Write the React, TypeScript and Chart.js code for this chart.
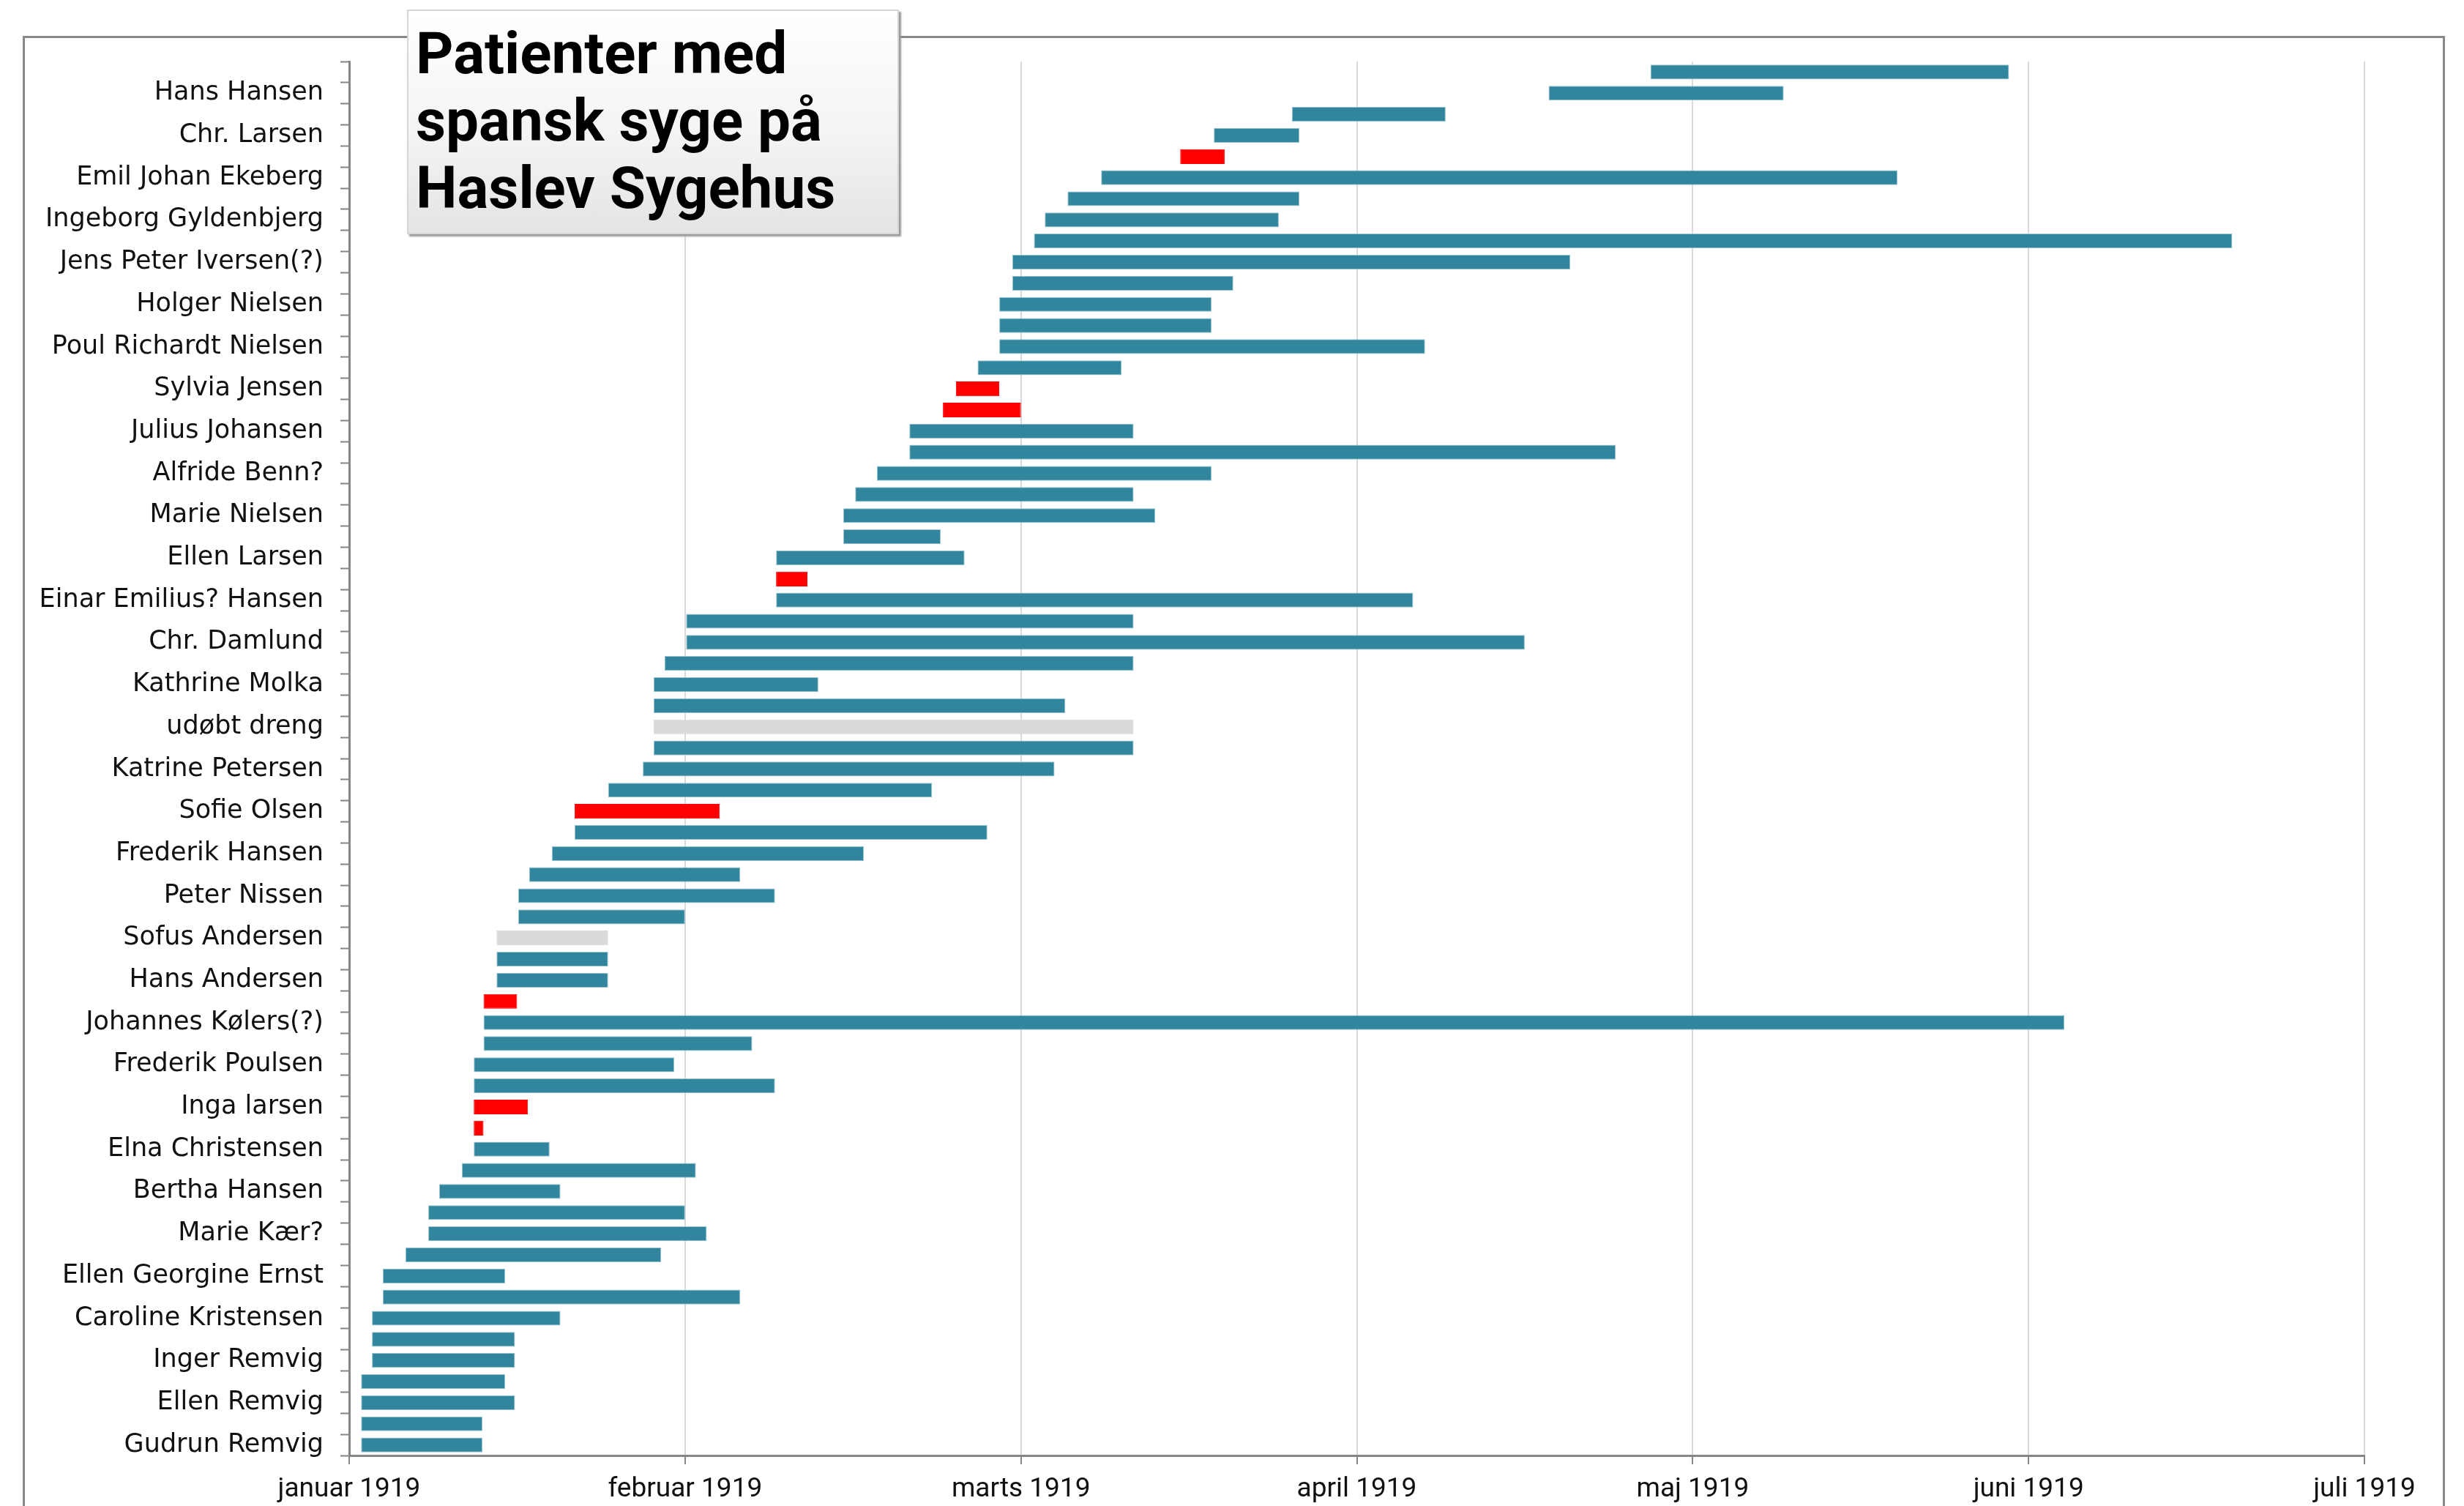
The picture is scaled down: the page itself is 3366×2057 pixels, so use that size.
import React, { useEffect, useRef } from 'react';
import { Chart, registerables } from 'chart.js';

Chart.register(...registerables);

// Rows listed top to bottom (Excel shows every other category name)
const patients: string[] = [
  '', 'Hans Hansen', '', 'Chr. Larsen', '', 'Emil Johan Ekeberg', '', 'Ingeborg Gyldenbjerg',
  '', 'Jens Peter Iversen(?)', '', 'Holger Nielsen', '', 'Poul Richardt Nielsen', '', 'Sylvia Jensen',
  '', 'Julius Johansen', '', 'Alfride Benn?', '', 'Marie Nielsen', '', 'Ellen Larsen',
  '', 'Einar Emilius? Hansen', '', 'Chr. Damlund', '', 'Kathrine Molka', '', 'udøbt dreng',
  '', 'Katrine Petersen', '', 'Sofie Olsen', '', 'Frederik Hansen', '', 'Peter Nissen',
  '', 'Sofus Andersen', '', 'Hans Andersen', '', 'Johannes Kølers(?)', '', 'Frederik Poulsen',
  '', 'Inga larsen', '', 'Elna Christensen', '', 'Bertha Hansen', '', 'Marie Kær?',
  '', 'Ellen Georgine Ernst', '', 'Caroline Kristensen', '', 'Inger Remvig', '', 'Ellen Remvig',
  '', 'Gudrun Remvig',
];

// Days after 1 January 1919
const admitted: number[] = [
  120.1, 110.7, 87.0, 79.8, 76.7, 69.4, 66.3, 64.2,
  63.2, 61.2, 61.2, 60.0, 60.0, 60.0, 58.0, 56.0,
  54.8, 51.7, 51.7, 48.7, 46.7, 45.6, 45.6, 39.4,
  39.4, 39.4, 31.1, 31.1, 29.1, 28.1, 28.1, 28.1,
  28.1, 27.1, 23.9, 20.8, 20.8, 18.7, 16.6, 15.6,
  15.6, 13.6, 13.6, 13.6, 12.4, 12.4, 12.4, 11.5,
  11.5, 11.5, 11.5, 11.5, 10.4, 8.3, 7.3, 7.3,
  5.2, 3.1, 3.1, 2.1, 2.1, 2.1, 1.1, 1.1,
  1.1, 1.1,
];

const discharged: number[] = [
  153.2, 132.4, 101.2, 87.7, 80.8, 142.9, 87.7, 85.8,
  173.8, 112.7, 81.6, 79.6, 79.6, 99.3, 71.3, 60.0,
  62.0, 72.4, 116.9, 79.6, 72.4, 74.4, 54.6, 56.8,
  42.3, 98.2, 72.4, 108.5, 72.4, 43.3, 66.1, 72.4,
  72.4, 65.1, 53.8, 34.2, 58.9, 47.5, 36.1, 39.3,
  31.0, 23.9, 23.9, 23.9, 15.5, 158.3, 37.2, 30.0,
  39.3, 16.5, 12.4, 18.5, 32.0, 19.5, 31.0, 33.0,
  28.8, 14.4, 36.1, 19.5, 15.3, 15.3, 14.4, 15.3,
  12.3, 12.3,
];

const outcome: string[] = [
  'udskrevet', 'udskrevet', 'udskrevet', 'udskrevet', 'død', 'udskrevet', 'udskrevet', 'udskrevet',
  'udskrevet', 'udskrevet', 'udskrevet', 'udskrevet', 'udskrevet', 'udskrevet', 'udskrevet', 'død',
  'død', 'udskrevet', 'udskrevet', 'udskrevet', 'udskrevet', 'udskrevet', 'udskrevet', 'udskrevet',
  'død', 'udskrevet', 'udskrevet', 'udskrevet', 'udskrevet', 'udskrevet', 'udskrevet', 'ukendt',
  'udskrevet', 'udskrevet', 'udskrevet', 'død', 'udskrevet', 'udskrevet', 'udskrevet', 'udskrevet',
  'udskrevet', 'ukendt', 'udskrevet', 'udskrevet', 'død', 'udskrevet', 'udskrevet', 'udskrevet',
  'udskrevet', 'død', 'død', 'udskrevet', 'udskrevet', 'udskrevet', 'udskrevet', 'udskrevet',
  'udskrevet', 'udskrevet', 'udskrevet', 'udskrevet', 'udskrevet', 'udskrevet', 'udskrevet', 'udskrevet',
  'udskrevet', 'udskrevet',
];

const monthLabels: string[] = [
  'januar 1919', 'februar 1919', 'marts 1919', 'april 1919', 'maj 1919', 'juni 1919', 'juli 1919',
];

const outcomeColor: Record<string, string> = {
  'udskrevet': '#31859C',
  'død': '#FF0000',
  'ukendt': '#D9D9D9',
};

const W = 3366;
const H = 2057;

export default function App() {
  const ref = useRef<HTMLCanvasElement>(null);

  useEffect(() => {
    document.body.style.margin = '0';
    const chart = new Chart(ref.current as HTMLCanvasElement, {
      type: 'bar',
      data: {
        labels: patients,
        datasets: [
          {
            data: admitted.map((s, i) => [s, discharged[i]]),
            backgroundColor: outcome.map((o) => outcomeColor[o]),
            borderColor: outcome.map((o) => (o === 'udskrevet' ? '#9cc6d3' : outcomeColor[o])),
            borderWidth: 1,
            borderSkipped: false,
            barPercentage: 0.7,
            categoryPercentage: 1,
          } as any,
        ],
      },
      options: {
        indexAxis: 'y',
        animation: false,
        responsive: false,
        devicePixelRatio: 1,
        layout: { padding: { left: 0, top: 84, right: 136, bottom: 0 } },
        plugins: { legend: { display: false }, tooltip: { enabled: false } },
        scales: {
          x: {
            type: 'linear',
            min: 0,
            max: 186,
            afterFit: (scale: any) => {
              scale.height = 69;
            },
            ticks: {
              stepSize: 31,
              autoSkip: false,
              maxRotation: 0,
              padding: 13,
              color: '#111111',
              font: { family: "'Roboto', sans-serif", size: 37 },
              callback: (_v: any, i: number) => monthLabels[i],
            },
            grid: {
              color: '#D9D9D9',
              lineWidth: 2,
              tickColor: '#868686',
              tickLength: 12,
              tickWidth: 2,
            },
            border: { color: '#868686', width: 3 },
          },
          y: {
            type: 'category',
            afterFit: (scale: any) => {
              scale.width = 477;
            },
            ticks: {
              autoSkip: false,
              padding: 23,
              color: '#111111',
              font: { family: "'DejaVu Sans', sans-serif", size: 35 },
            },
            grid: {
              drawOnChartArea: false,
              offset: true,
              tickColor: '#868686',
              tickLength: 12,
              tickWidth: 2,
            },
            border: { color: '#868686', width: 3 },
          },
        },
      },
    });
    return () => chart.destroy();
  }, []);

  return (
    <div
      style={{
        position: 'fixed',
        left: 0,
        top: 0,
        width: W,
        height: H,
        overflow: 'hidden',
        background: '#ffffff',
      }}
    >
      <div
        style={{
          position: 'absolute',
          left: 31,
          top: 49,
          width: 3309,
          height: 2300,
          border: '3px solid #878787',
          boxSizing: 'border-box',
        }}
      />
      <canvas
        ref={ref}
        width={W}
        height={H}
        style={{ position: 'absolute', left: 0, top: 0, width: W, height: H, display: 'block' }}
      />
      <div
        style={{
          position: 'absolute',
          left: 556,
          top: 13,
          width: 672,
          height: 307,
          boxSizing: 'border-box',
          border: '2px solid #d6d6d6',
          background: 'linear-gradient(to bottom, #ffffff 0%, #f4f4f4 55%, #e4e4e4 100%)',
          boxShadow: '3px 3px 2px #9a9a9a',
          padding: '12px 0 0 10px',
          fontFamily: "'Roboto', 'Liberation Sans', sans-serif",
          fontWeight: 700,
          fontSize: 80,
          lineHeight: '92px',
          color: '#000000',
          whiteSpace: 'nowrap',
        }}
      >
        Patienter med
        <br />
        spansk syge på
        <br />
        Haslev Sygehus
      </div>
    </div>
  );
}
